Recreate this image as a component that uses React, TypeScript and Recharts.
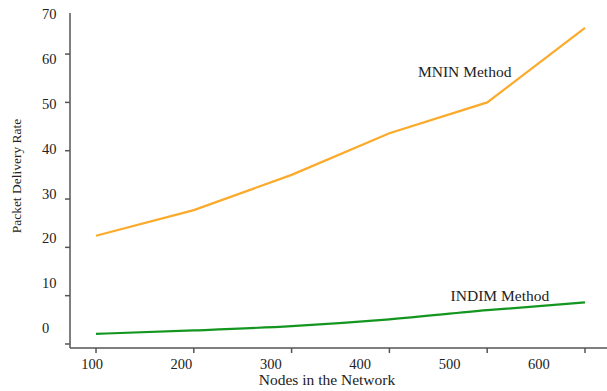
import { LineChart, Line, XAxis, YAxis, ReferenceDot, Label } from "recharts";

const nodes = [100, 200, 300, 400, 500, 600];
const mnin = [22.4, 27.7, 35.0, 43.6, 50.0, 65.4];
const indim = [2.1, 2.8, 3.7, 5.1, 7.0, 8.6];
const xTicks = [100, 200, 300, 400, 500, 600];
const yTicks = [0, 10, 20, 30, 40, 50, 60, 70];

const data = nodes.map((n, i) => ({ nodes: n, mnin: mnin[i], indim: indim[i] }));

const FONT = "'Liberation Serif', 'Times New Roman', serif";
const AXIS = "#555";
const TEXT = "#222";
const X_DOMAIN = [73.4, 622.5];
const Y_DOMAIN = [-0.83, 68.5];
const PLOT_LEFT = 70;
const PLOT_TOP = 13;

// tick labels in the source sit on a slightly compressed grid vs the tick marks
function YTick(props: any) {
  const { y, payload } = props;
  const ly = 328 - (344 - y) * 0.928;
  return (
    <g>
      {y >= PLOT_TOP && (
        <line x1={PLOT_LEFT - 5} x2={PLOT_LEFT} y1={y} y2={y} stroke={AXIS} strokeWidth={1.5} />
      )}
      <text x={42} y={ly} dy="0.35em" textAnchor="start" fontSize={14.5} fontFamily={FONT} fill={TEXT}>
        {payload.value}
      </text>
    </g>
  );
}

function XTick(props: any) {
  const { x, payload } = props;
  const lx = 92 + (x - 96) * 0.914;
  return (
    <g>
      <line x1={x} x2={x} y1={348} y2={353} stroke={AXIS} strokeWidth={1.5} />
      <text x={lx} y={364} dy="0.35em" textAnchor="middle" fontSize={14.5} fontFamily={FONT} fill={TEXT}>
        {payload.value}
      </text>
    </g>
  );
}

const note = (text: string) => (p: any) => (
  <text x={p.cx} y={p.cy} dy="0.35em" textAnchor="middle" fontSize={15.5} fontFamily={FONT} fill={TEXT}>
    {text}
  </text>
);

export default function App() {
  return (
    <div style={{ position: "absolute", left: 0, top: 0, background: "#fff" }}>
      <LineChart width={607} height={391} data={data} margin={{ top: PLOT_TOP, right: 0, bottom: 0, left: 0 }}>
        <XAxis
          dataKey="nodes"
          type="number"
          domain={X_DOMAIN}
          allowDataOverflow
          ticks={xTicks}
          interval={0}
          height={43}
          tickLine={false}
          axisLine={{ stroke: AXIS, strokeWidth: 1.5 }}
          tick={<XTick />}
        >
          <Label
            content={() => (
              <text x={327} y={385} textAnchor="middle" fontSize={15.5} fontFamily={FONT} fill={TEXT}>
                Nodes in the Network
              </text>
            )}
          />
        </XAxis>
        <XAxis
          xAxisId="top"
          orientation="top"
          type="number"
          domain={X_DOMAIN}
          allowDataOverflow
          height={0}
          tick={false}
          tickLine={false}
          axisLine={{ stroke: AXIS, strokeWidth: 1.5 }}
        />
        <YAxis
          type="number"
          domain={Y_DOMAIN}
          allowDataOverflow
          ticks={yTicks}
          interval={0}
          width={70}
          tickLine={false}
          axisLine={{ stroke: AXIS, strokeWidth: 1.5 }}
          tick={<YTick />}
        >
          <Label
            content={() => (
              <text
                transform="translate(21,176) rotate(-90)"
                textAnchor="middle"
                fontSize={13.5}
                fontFamily={FONT}
                fill={TEXT}
              >
                Packet Delivery Rate
              </text>
            )}
          />
        </YAxis>
        <Line type="linear" dataKey="mnin" stroke="#fbaa2a" strokeWidth={2.2} dot={false} isAnimationActive={false} />
        <Line type="monotone" dataKey="indim" stroke="#13961f" strokeWidth={2.2} dot={false} isAnimationActive={false} />
        <ReferenceDot x={477} y={56.3} r={0} shape={note("MNIN Method")} />
        <ReferenceDot x={513} y={10.1} r={0} shape={note("INDIM Method")} />
      </LineChart>
    </div>
  );
}
